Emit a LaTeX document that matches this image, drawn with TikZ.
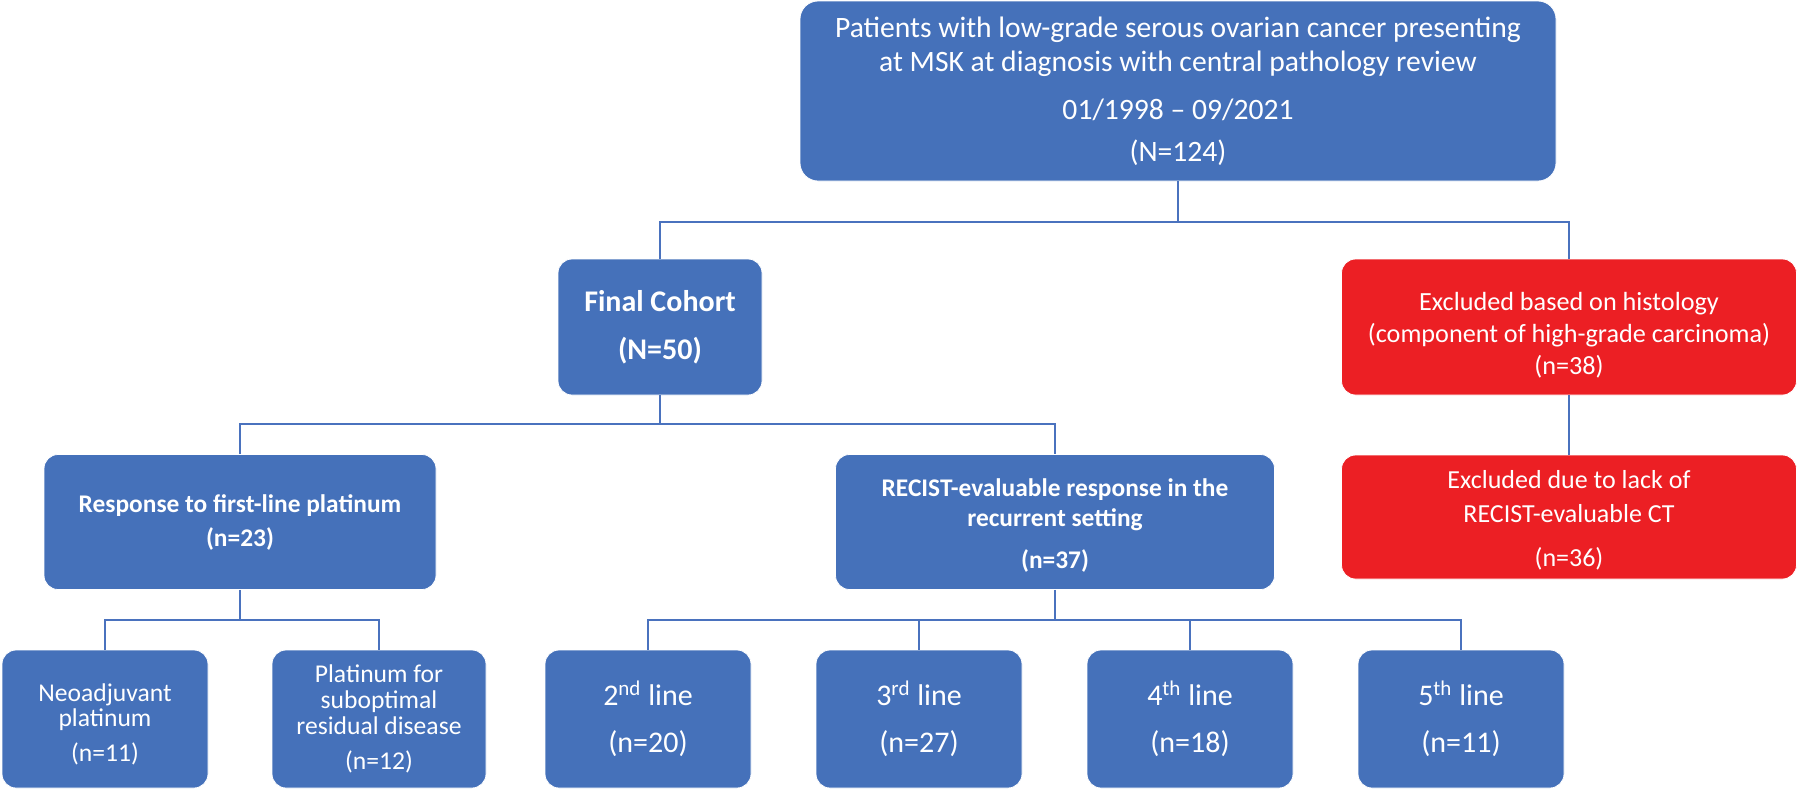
\documentclass[tikz,border=0pt]{standalone}
\usepackage{fontspec}
\setmainfont{Carlito}
\definecolor{boxblue}{HTML}{4571BA}
\definecolor{boxred}{HTML}{EC1F24}
\definecolor{lineblue}{HTML}{4A72BE}
\tikzset{
  box/.style={rectangle, rounded corners=7pt, fill=boxblue, draw=white, line width=0.4pt,
    text=white, align=center, inner sep=0pt},
  redbox/.style={box, fill=boxred},
  conn/.style={draw=lineblue, line width=1pt},
  fs/.style 2 args={font=\fontsize{#1}{#2}\selectfont},
  fsb/.style 2 args={font=\fontsize{#1}{#2}\selectfont\bfseries},
}
\newcommand{\lift}[1]{\rule{0pt}{#1}}
\begin{document}
\begin{tikzpicture}[x=0.5pt,y=-0.5pt]
\useasboundingbox (0,0) rectangle (1800,788);
% top
\node[box, fs={14.8}{17}, minimum width=378pt, minimum height=90pt, rounded corners=9pt] (top) at (1178,91)
  {Patients with low-grade serous ovarian cancer presenting\\
   at MSK at diagnosis with central pathology review\\[7pt]
   01/1998 -- 09/2021\\[4pt]
   (N=124)};
% second row
\node[box, fsb={15}{24}, minimum width=102pt, minimum height=68pt] (fc) at (660,327)
  {Final Cohort\\(N=50)};
\node[redbox, fs={13.1}{16}, minimum width=227.5pt, minimum height=68pt] (ex1) at (1569,327)
  {\lift{17pt}Excluded based on histology\\(component of high-grade carcinoma)\\(n=38)};
\node[redbox, fs={13}{17.2}, minimum width=227.5pt, minimum height=62pt] (ex2) at (1569,517)
  {\lift{12pt}Excluded due to lack of\\RECIST-evaluable CT\\[4.6pt](n=36)};
% third row
\node[box, fsb={12.7}{17}, minimum width=196pt, minimum height=67.5pt] (resp) at (240,522)
  {Response to first-line platinum\\(n=23)};
\node[box, fsb={12.7}{15}, minimum width=219.5pt, minimum height=67.5pt] (rec) at (1055,522)
  {\lift{12.5pt}RECIST-evaluable response in the\\recurrent setting\\[6pt](n=37)};
% bottom row
\node[box, fs={12.8}{12.6}, minimum width=103pt, minimum height=69pt] (neo) at (105,719)
  {\lift{14pt}Neoadjuvant\\platinum\\[4.6pt](n=11)};
\node[box, fs={12.8}{13}, minimum width=107pt, minimum height=69pt] (plat) at (379,719)
  {Platinum for\\suboptimal\\residual disease\\[4.5pt](n=12)};
\node[box, fs={15}{23.5}, minimum width=103pt, minimum height=69pt] (l2) at (648,719)
  {2\textsuperscript{nd} line\\(n=20)};
\node[box, fs={15}{23.5}, minimum width=103pt, minimum height=69pt] (l3) at (919,719)
  {3\textsuperscript{rd} line\\(n=27)};
\node[box, fs={15}{23.5}, minimum width=103pt, minimum height=69pt] (l4) at (1190,719)
  {4\textsuperscript{th} line\\(n=18)};
\node[box, fs={15}{23.5}, minimum width=103pt, minimum height=69pt] (l5) at (1461,719)
  {5\textsuperscript{th} line\\(n=11)};
% rails
\coordinate (r1) at (0,222);
\coordinate (r2) at (0,424);
\coordinate (r3) at (0,620);
% connectors
\draw[conn] (top.south) -- (top.south |- r1);
\draw[conn] (fc.north) |- (ex1.north |- r1) -- (ex1.north);
\draw[conn] (ex1.south) -- (ex2.north);
\draw[conn] (fc.south) -- (fc.south |- r2);
\draw[conn] (resp.north) |- (rec.north |- r2) -- (rec.north);
\draw[conn] (resp.south) -- (resp.south |- r3);
\draw[conn] (neo.north) |- (plat.north |- r3) -- (plat.north);
\draw[conn] (rec.south) -- (rec.south |- r3);
\draw[conn] (l2.north) |- (l5.north |- r3) -- (l5.north);
\draw[conn] (l3.north) -- (l3.north |- r3);
\draw[conn] (l4.north) -- (l4.north |- r3);
\end{tikzpicture}
\end{document}
